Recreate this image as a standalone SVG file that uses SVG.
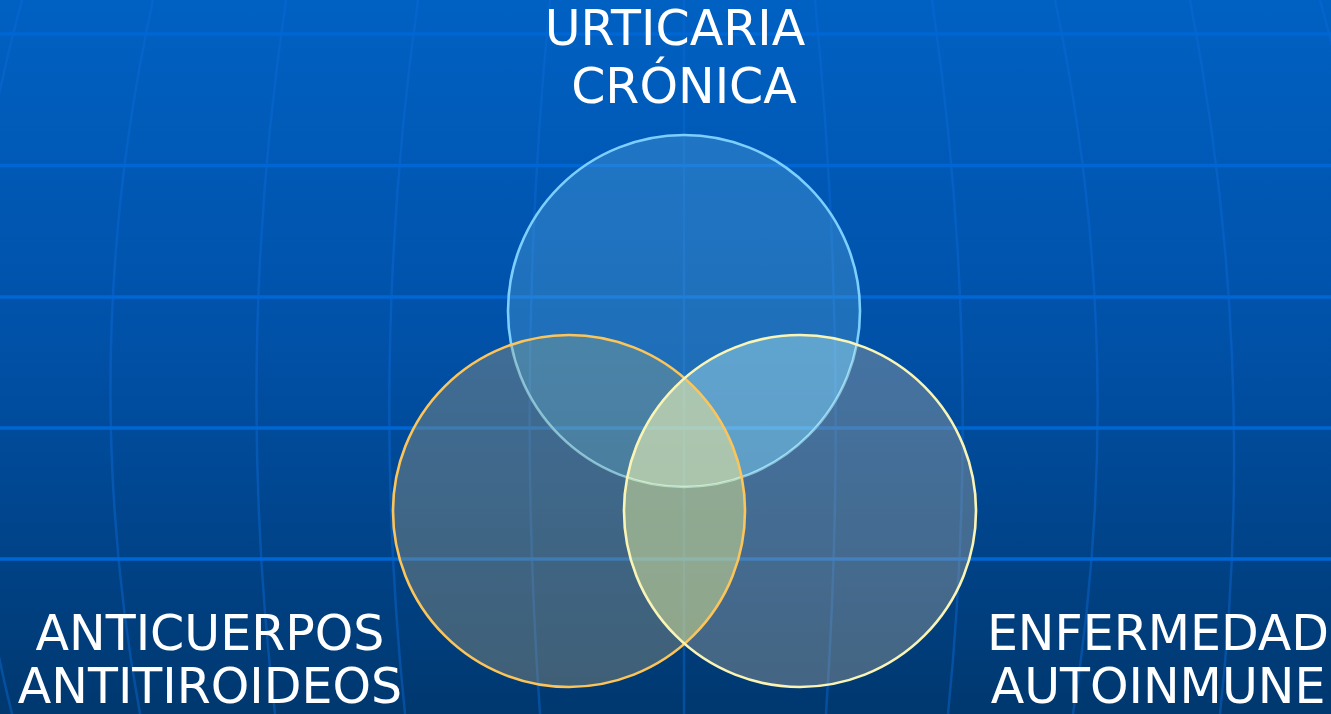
<svg xmlns="http://www.w3.org/2000/svg" width="1331" height="714" viewBox="0 0 1331 714">
  <defs>
    <linearGradient id="bg" x1="0" y1="0" x2="0" y2="1">
      <stop offset="0" stop-color="#0061c3"/>
      <stop offset="0.5" stop-color="#0050a6"/>
      <stop offset="1" stop-color="#00386f"/>
    </linearGradient>
    <clipPath id="cT"><circle cx="684" cy="311" r="176"/></clipPath>
    <clipPath id="cL"><circle cx="569" cy="511" r="176"/></clipPath>
    <mask id="mNotLR" maskUnits="userSpaceOnUse" x="0" y="0" width="1331" height="714">
      <rect width="1331" height="714" fill="#fff"/>
      <circle cx="569" cy="511" r="176" fill="#000"/>
      <circle cx="800" cy="511" r="176" fill="#000"/>
    </mask>
    <mask id="mNotTR" maskUnits="userSpaceOnUse" x="0" y="0" width="1331" height="714">
      <rect width="1331" height="714" fill="#fff"/>
      <circle cx="684" cy="311" r="176" fill="#000"/>
      <circle cx="800" cy="511" r="176" fill="#000"/>
    </mask>
    <mask id="mNotTL" maskUnits="userSpaceOnUse" x="0" y="0" width="1331" height="714">
      <rect width="1331" height="714" fill="#fff"/>
      <circle cx="684" cy="311" r="176" fill="#000"/>
      <circle cx="569" cy="511" r="176" fill="#000"/>
    </mask>
    <mask id="mNotR" maskUnits="userSpaceOnUse" x="0" y="0" width="1331" height="714">
      <rect width="1331" height="714" fill="#fff"/>
      <circle cx="800" cy="511" r="176" fill="#000"/>
    </mask>
    <mask id="mNotL" maskUnits="userSpaceOnUse" x="0" y="0" width="1331" height="714">
      <rect width="1331" height="714" fill="#fff"/>
      <circle cx="569" cy="511" r="176" fill="#000"/>
    </mask>
    <mask id="mNotT" maskUnits="userSpaceOnUse" x="0" y="0" width="1331" height="714">
      <rect width="1331" height="714" fill="#fff"/>
      <circle cx="684" cy="311" r="176" fill="#000"/>
    </mask>
  </defs>
  <style>
    .hline { stroke: #0066d4; stroke-width: 3.5; fill: none; }
    .vline { stroke: #0a6ad8; stroke-opacity: 0.45; stroke-width: 2.5; fill: none; }
    .lbl { fill: #ffffff; font-family: "DejaVu Sans", Verdana, sans-serif; font-size: 49px; text-anchor: middle; }
    .ring { fill: none; stroke-width: 2.6; }
  </style>

  <rect width="1331" height="714" fill="url(#bg)"/>

  <g id="grid">
    <path class="vline" d="M22,0 Q-77,357 12,714"/>
    <path class="vline" d="M153,0 Q75,357 140,714"/>
    <path class="vline" d="M286,0 Q233,357 275,714"/>
    <path class="vline" d="M418,0 Q368,357 405,714"/>
    <path class="vline" d="M550,0 Q515,357 540,714"/>
    <path class="vline" d="M684,0 L684,714"/>
    <path class="vline" d="M815,0 Q850,357 826,714"/>
    <path class="vline" d="M932,0 Q984,357 948,714"/>
    <path class="vline" d="M1055,0 Q1130,357 1073,714"/>
    <path class="vline" d="M1190,0 Q1259,357 1220,714"/>
    <path class="vline" d="M1320,0 Q1420,357 1340,714"/>
    <line class="hline" x1="0" y1="34" x2="1331" y2="34"/>
    <line class="hline" x1="0" y1="165.5" x2="1331" y2="165.5"/>
    <line class="hline" x1="0" y1="297" x2="1331" y2="297"/>
    <line class="hline" x1="0" y1="428" x2="1331" y2="428"/>
    <line class="hline" x1="0" y1="559" x2="1331" y2="559"/>
  </g>

  <g id="venn-fills">
    <circle cx="684" cy="311" r="176" fill="rgb(103,181,227)" fill-opacity="0.3" mask="url(#mNotLR)"/>
  </g>

  <g id="node-urticaria">
    <circle class="ring" cx="684" cy="311" r="176" stroke="#7ccfff"/>
    <text class="lbl" x="675" y="45">URTICARIA</text>
    <text class="lbl" x="684" y="103">CRÓNICA</text>
  </g>

  <g id="venn-overlaps">
    <circle cx="569" cy="511" r="176" fill="rgb(158,152,126)" fill-opacity="0.4" mask="url(#mNotTR)"/>
    <circle cx="800" cy="511" r="176" fill="rgb(170,167,156)" fill-opacity="0.4" mask="url(#mNotTL)"/>
    <g clip-path="url(#cT)">
      <circle cx="569" cy="511" r="176" fill="rgb(164,192,170)" fill-opacity="0.45" mask="url(#mNotR)"/>
    </g>
    <g clip-path="url(#cT)">
      <circle cx="800" cy="511" r="176" fill="rgb(190,246,248)" fill-opacity="0.5" mask="url(#mNotL)"/>
    </g>
    <g clip-path="url(#cL)">
      <circle cx="800" cy="511" r="176" fill="rgb(220,223,148)" fill-opacity="0.65" mask="url(#mNotT)"/>
    </g>
    <g clip-path="url(#cT)">
      <g clip-path="url(#cL)">
        <circle cx="800" cy="511" r="176" fill="rgb(243,249,182)" fill-opacity="0.7"/>
      </g>
    </g>
  </g>

  <g id="node-anticuerpos">
    <circle class="ring" cx="569" cy="511" r="176" stroke="#fcc55a"/>
    <text class="lbl" x="210" y="650">ANTICUERPOS</text>
    <text class="lbl" x="210" y="703">ANTITIROIDEOS</text>
  </g>

  <g id="node-enfermedad">
    <circle class="ring" cx="800" cy="511" r="176" stroke="#fbf5b5"/>
    <text class="lbl" x="1158" y="650">ENFERMEDAD</text>
    <text class="lbl" x="1158" y="703">AUTOINMUNE</text>
  </g>

  <g id="connectors"/>
</svg>
